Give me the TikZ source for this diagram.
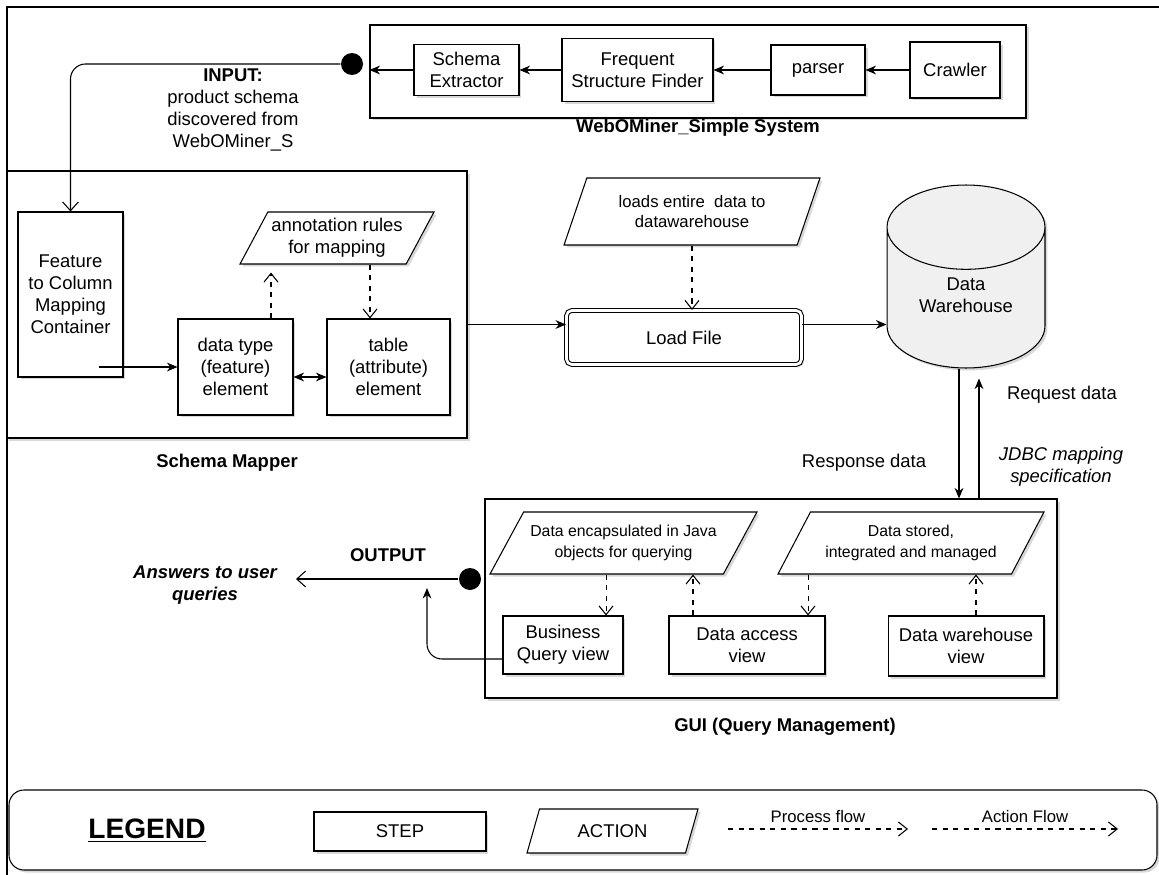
\documentclass[tikz,border=0pt]{standalone}
\usepackage{fontspec}
\setmainfont{Liberation Sans}
\usetikzlibrary{arrows.meta,shapes.geometric,shadows,fit}
\newcommand{\boxtext}{\fontsize{10.5}{12.6}\selectfont}
\newcommand{\smalltext}{\fontsize{9}{11.6}\selectfont}
\tikzset{
  boxshadow/.style={drop shadow={shadow xshift=0.05cm,shadow yshift=-0.05cm,opacity=0.3}},
  stepbox/.style={draw, fill=white, rectangle, align=center, font=\boxtext, inner sep=1pt, boxshadow},
  actionbox/.style={draw, fill=white, trapezium, trapezium stretches body, align=center, font=\boxtext, inner sep=1pt, boxshadow},
  groupbox/.style={draw, fill=white, inner sep=0pt, boxshadow},
  grouptitle/.style={font=\boxtext\bfseries},
  dot/.style={circle, fill=black, minimum size=0.44cm, inner sep=0pt},
  flow/.style={-{Stealth[length=6pt,width=5pt]}},
  openflow/.style={-{Straight Barb[length=5pt,width=9pt]}},
  procflow/.style={dashed, -{Straight Barb[length=5pt,width=8pt]}}
}
\begin{document}
\begin{tikzpicture}[x=0.02cm, y=-0.02cm, line width=0.6pt]
\useasboundingbox (0,0) rectangle (1159,875);
\draw[line width=1.1pt] (1159,7) -- (7,7) -- (7,875);

\node[groupbox, fit={(370,25) (1026,118)}] (wm) {};
\node[groupbox, fit={(7,171) (467,438)}] (sm) {};
\node[groupbox, fit={(485,499) (1057,698)}] (gui) {};
\node[groupbox, rounded corners=0.3cm, fit={(9,790) (1157,870)}] (legend) {};

\node[grouptitle] (wmtitle) at (698,128) {WebOMiner\_Simple System};
\node[grouptitle] (smtitle) at (227,463) {Schema Mapper};
\node[grouptitle] (guititle) at (785,727) {GUI (Query Management)};

\node[stepbox, minimum width=1.8cm, minimum height=1.12cm] (crawler) at (955,70) {Crawler};
\node[stepbox, minimum width=1.88cm, minimum height=1cm] (parser) at (818,70) {parser};
\node[stepbox, minimum width=3.02cm, minimum height=1.26cm] (fsf) at (637.5,70) {Frequent\\Structure Finder};
\node[stepbox, minimum width=2.1cm, minimum height=1.02cm] (se) at (466.5,70) {Schema\\Extractor};
\node[dot] (indot) at (352,64) {};
\node[align=center, font=\boxtext] (input) at (233,110) {\textbf{INPUT:}\\product schema\\discovered from\\WebOMiner\_S};

\node[stepbox, minimum width=2.1cm, minimum height=3.3cm] (feat) at (70.5,294.5) {Feature\\to Column\\Mapping\\Container};
\node[actionbox, trapezium left angle=57, trapezium right angle=123, minimum width=3.88cm, minimum height=1.04cm] (ann) at (337,238) {annotation rules\\for mapping};
\node[stepbox, minimum width=2.3cm, minimum height=1.92cm] (dtype) at (235.5,367) {data type\\(feature)\\element};
\node[stepbox, minimum width=2.46cm, minimum height=1.92cm] (table) at (388.5,367) {table\\(attribute)\\element};

\node[actionbox, trapezium left angle=58, trapezium right angle=122, minimum width=5.12cm, minimum height=1.34cm, font=\fontsize{9.5}{11.8}\selectfont] (le) at (692,211.5) {loads entire\ \ data to\\datawarehouse};
\node[stepbox, double, double distance=1.5pt, rounded corners=3pt, minimum width=4.7cm, minimum height=1.08cm] (load) at (684,337.5) {Load File};
\node[draw, cylinder, shape border rotate=90, aspect=0.8, minimum width=3.16cm, minimum height=3.66cm, fill=gray!12, boxshadow, align=center, font=\boxtext, anchor=shape center] (dw) at (966,276.5) {Data\\Warehouse\\~};

\node[font=\boxtext] (req) at (1062,395) {Request data};
\node[font=\boxtext] (resp) at (864,463) {Response data};
\node[align=center, font=\boxtext\itshape] (jdbc) at (1061,467) {JDBC mapping\\specification};

\node[actionbox, trapezium left angle=49, trapezium right angle=131, minimum width=5.34cm, minimum height=1.24cm, font=\smalltext] (p1) at (623.5,543) {Data encapsulated in Java\\objects for querying};
\node[actionbox, trapezium left angle=50, trapezium right angle=130, minimum width=5.32cm, minimum height=1.24cm, font=\smalltext] (p2) at (911,543) {Data stored,\\integrated and managed};
\node[stepbox, minimum width=2.4cm, minimum height=1.16cm] (bqv) at (563,645) {Business\\Query view};
\node[stepbox, minimum width=3.12cm, minimum height=1.16cm] (dav) at (747,645) {Data access\\view};
\node[stepbox, minimum width=3.12cm, minimum height=1.2cm] (dwv) at (966,646) {Data warehouse\\view};

\node[dot] (outdot) at (470,579) {};
\node[font=\boxtext\bfseries] (output) at (388,555) {OUTPUT};
\node[align=center, font=\boxtext\bfseries\itshape] (answers) at (205,585) {Answers to user\\queries};
\coordinate (anstip) at (296,579);
\coordinate (outtip) at (427,588);

\node[font=\fontsize{16}{18}\selectfont\bfseries] (legtitle) at (147,831) {\underline{LEGEND}};
\node[stepbox, minimum width=3.44cm, minimum height=0.78cm] (step) at (400,831.5) {STEP};
\node[actionbox, trapezium left angle=53, trapezium right angle=127, minimum width=3.42cm, minimum height=0.88cm] (action) at (612.5,831) {ACTION};
\coordinate (pf1) at (728,829);
\coordinate (pf2) at (908,829);
\coordinate (af1) at (932,829);
\coordinate (af2) at (1118,829);

\foreach \a/\b in {crawler/parser, parser/fsf, fsf/se}
  \draw[flow] (\a) -- (\b);
\draw[flow] (se) -- (se.west -| wm.west);
\draw[openflow, rounded corners=0.3cm] (indot) -| (feat);

\coordinate (fin) at (99,367);
\draw[flow] (fin) -- (dtype);
\draw[{Stealth[length=6pt,width=5pt]}-{Stealth[length=6pt,width=5pt]}] ([yshift=-0.2cm]dtype.east) -- ([yshift=-0.2cm]table.west);
\draw[procflow] ([xshift=0.71cm]dtype.north) -- ([xshift=0.71cm,yshift=-0.16cm]dtype.north |- ann.south);
\draw[procflow] ([xshift=0.66cm]ann.south) -- ([xshift=0.66cm]ann.south |- table.north);

\coordinate (lin) at ([yshift=0.26cm]load.west);
\draw[flow] (sm.east |- lin) -- (lin);
\draw[flow] (load.east |- lin) -- (dw.west |- lin);
\draw[procflow] (le.south) -- (le.south |- load.north);
\draw[flow] ([xshift=-0.14cm]dw.south) -- ([xshift=-0.14cm]dw.south |- gui.north);
\draw[flow] ([xshift=0.26cm]dw.south |- gui.north) -- ([xshift=0.26cm,yshift=-0.2cm]dw.south);

\draw[procflow] ([xshift=-0.35cm]p1.south) -- ([xshift=-0.35cm]p1.south |- bqv.north);
\draw[procflow] ([xshift=-1.08cm]dav.north) -- ([xshift=-1.08cm]dav.north |- p1.south);
\draw[procflow] ([xshift=-2.06cm]p2.south) -- ([xshift=-2.06cm]p2.south |- dav.north);
\draw[procflow] ([xshift=0.2cm]dwv.north) -- ([xshift=0.2cm]dwv.north |- p2.south);

\draw[openflow] (outdot) -- (anstip);
\draw[flow, rounded corners=0.3cm] ([yshift=-0.28cm]bqv.west) -| (outtip);

\draw[procflow] (pf1) -- node[above, font=\fontsize{9.5}{11.8}\selectfont] {Process flow} (pf2);
\draw[procflow] (af1) -- node[above, font=\fontsize{9.5}{11.8}\selectfont] {Action Flow} (af2);
\end{tikzpicture}
\end{document}
